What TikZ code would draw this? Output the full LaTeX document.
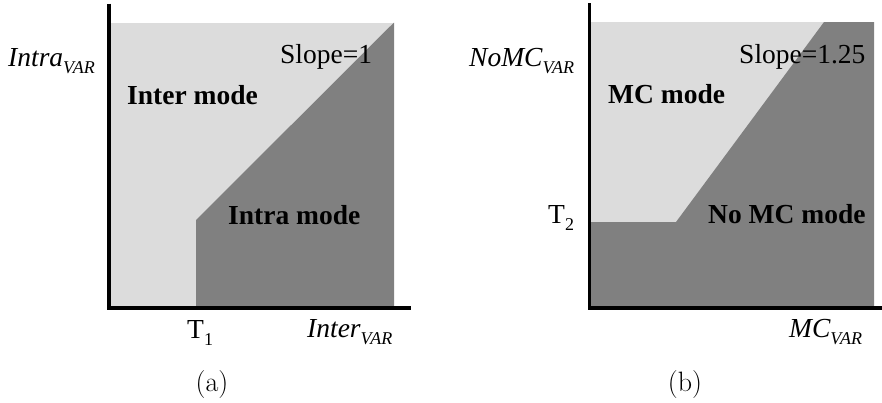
\documentclass[tikz,border=0pt]{standalone}
\usepackage{fontspec}
\newfontfamily\tnr{Liberation Serif}
\definecolor{lightfill}{RGB}{220,220,220}
\definecolor{darkfill}{RGB}{128,128,128}
\newcommand\lsub[1]{\raisebox{-7pt}{\fontsize{18}{18}\selectfont #1}}
\tikzset{
  lbl/.style={inner sep=0pt, anchor=base west, font=\tnr\fontsize{27.5}{27.5}\selectfont},
  blbl/.style={lbl, font=\tnr\bfseries\fontsize{27.5}{27.5}\selectfont},
  axisline/.style={line width=3.5pt, black},
  subcap/.style={inner sep=0pt, font=\fontsize{28}{28}\selectfont},
}
\begin{document}
\begin{tikzpicture}[x=1pt,y=-1pt]
\useasboundingbox (0,0) rectangle (882,402);
% ---------- panel (a) ----------
\fill[lightfill] (109,22.5) rectangle (394,308);
\fill[darkfill] (196,308) -- (196,220) -- (394,22.5) -- (394,308) -- cycle;
\draw[axisline] (109,3.5) -- (109,308);
\draw[axisline] (107,308) -- (410.5,308);
\node[lbl] (ya) at (8,66) {\itshape Intra\lsub{VAR}};
\node[lbl] (sa) at (280,63) {Slope=1};
\node[blbl] (ia) at (127,104) {Inter mode};
\node[blbl] (ra) at (228,224) {Intra mode};
\node[lbl] (ta) at (187,338) {T\lsub{1}};
\node[lbl] (xa) at (307,337) {\itshape Inter\lsub{VAR}};
\node[subcap] (ca) at (212,385) {(a)};
% ---------- panel (b) ----------
\fill[lightfill] (590,22) rectangle (874,308);
\fill[darkfill] (590,308) -- (590,222) -- (676,222) -- (824,22) -- (874,22) -- (874,308) -- cycle;
\draw[axisline] (589.7,3) -- (589.7,308);
\draw[axisline] (588,308) -- (882,308);
\node[lbl] (yb) at (469,66) {\itshape NoMC\lsub{VAR}};
\node[lbl] (sb) at (739,63) {Slope=1.25};
\node[blbl] (mb) at (608,103) {MC mode};
\node[blbl] (nb) at (708,223) {No MC mode};
\node[lbl] (tb) at (548,223) {T\lsub{2}};
\node[lbl] (xb) at (789,337) {\itshape MC\lsub{VAR}};
\node[subcap] (cb) at (685,385) {(b)};
\end{tikzpicture}
\end{document}
